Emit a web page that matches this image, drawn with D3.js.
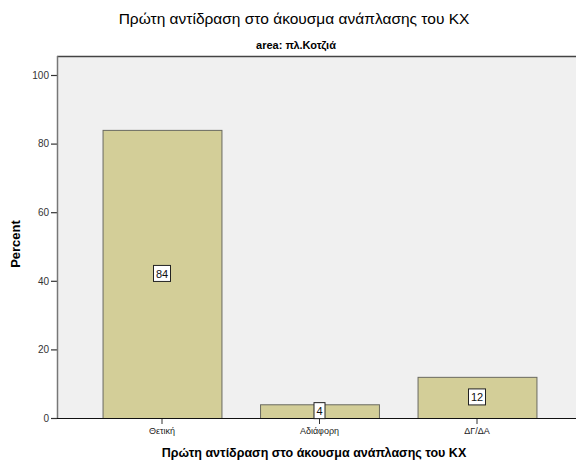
<!DOCTYPE html>
<html>
<head>
<meta charset="utf-8">
<script src="https://cdn.jsdelivr.net/npm/d3@7"></script>
<style>
  html, body { margin: 0; padding: 0; background: #ffffff; }
  svg { display: block; font-family: Arial, "Liberation Sans", sans-serif; }
</style>
</head>
<body>
<svg id="chart" width="576" height="464"></svg>
<script>
// Response categories and their percentages
const categories = ["Θετική", "Αδιάφορη", "ΔΓ/ΔΑ"];
const percents = [84, 4, 12];
const yTicks = [0, 20, 40, 60, 80, 100];

const titleText = "Πρώτη αντίδραση στο άκουσμα ανάπλασης του ΚΧ";
const subtitleText = "area: πλ.Κοτζιά";
const xTitle = "Πρώτη αντίδραση στο άκουσμα ανάπλασης του ΚΧ";
const yTitle = "Percent";

const plot = { left: 57, top: 56, right: 576, bottom: 418 };

const svg = d3.select("#chart");

const x = d3.scaleBand()
  .domain(categories)
  .range([83.25, 555.75])
  .paddingInner(0.245)
  .paddingOuter(0.1225);

const y = d3.scaleLinear()
  .domain([0, 100])
  .range([plot.bottom, 75]);

// plot background
svg.append("rect")
  .attr("x", plot.left).attr("y", plot.top)
  .attr("width", plot.right - plot.left)
  .attr("height", plot.bottom - plot.top)
  .attr("fill", "#f0f0f0");

// top frame line
svg.append("line")
  .attr("x1", plot.left).attr("x2", plot.right)
  .attr("y1", plot.top + 0.5).attr("y2", plot.top + 0.5)
  .attr("stroke", "#444").attr("stroke-width", 1.5);

// bars
svg.append("g").selectAll("rect")
  .data(percents)
  .join("rect")
  .attr("x", (d, i) => x(categories[i]) + 0.5)
  .attr("y", d => y(d) + 0.5)
  .attr("width", x.bandwidth())
  .attr("height", d => y(0) - y(d))
  .attr("fill", "#d3ce98")
  .attr("stroke", "#6a6a60")
  .attr("stroke-width", 1);

// y axis
const yAxis = svg.append("g")
  .attr("transform", `translate(${plot.left},0)`)
  .call(d3.axisLeft(y).tickValues(yTicks).tickSize(6).tickPadding(2).tickFormat(d3.format("d")));
yAxis.select(".domain").remove();
yAxis.selectAll(".tick line").attr("stroke", "#333").attr("stroke-width", 1.2);
yAxis.selectAll(".tick text")
  .attr("font-size", 10).attr("fill", "#333")
  .attr("font-family", "Arial, 'Liberation Sans', sans-serif");
svg.append("line")
  .attr("x1", plot.left + 0.5).attr("x2", plot.left + 0.5)
  .attr("y1", plot.top).attr("y2", plot.bottom)
  .attr("stroke", "#777").attr("stroke-width", 1.5);

// x axis
const xAxis = svg.append("g")
  .attr("transform", `translate(0,${plot.bottom})`)
  .call(d3.axisBottom(x).tickSize(6).tickPadding(4).tickSizeOuter(0));
xAxis.select(".domain").remove();
xAxis.selectAll(".tick line").attr("stroke", "#333").attr("stroke-width", 1);
xAxis.selectAll(".tick text")
  .attr("font-size", 9).attr("fill", "#222")
  .attr("font-family", "Arial, 'Liberation Sans', sans-serif");
svg.append("line")
  .attr("x1", plot.left).attr("x2", plot.right)
  .attr("y1", plot.bottom + 0.5).attr("y2", plot.bottom + 0.5)
  .attr("stroke", "#111").attr("stroke-width", 1.2);

// value labels in boxes at bar mid-height
const labels = svg.append("g").selectAll("g")
  .data(percents)
  .join("g")
  .attr("transform", (d, i) => `translate(${x(categories[i]) + x.bandwidth() / 2},${y(d / 2)})`);
labels.each(function(d) {
  const g = d3.select(this);
  const t = g.append("text")
    .text(d)
    .attr("text-anchor", "middle")
    .attr("dy", "0.36em")
    .attr("font-size", 11)
    .attr("fill", "#111");
  const bb = t.node().getBBox();
  g.insert("rect", "text")
    .attr("x", Math.round(bb.x) - 2.5)
    .attr("y", -8.5)
    .attr("width", Math.round(bb.width) + 5)
    .attr("height", 16)
    .attr("fill", "#ffffff")
    .attr("stroke", "#222")
    .attr("stroke-width", 1);
});

// titles
svg.append("text")
  .attr("x", 294).attr("y", 24)
  .attr("text-anchor", "middle")
  .attr("font-size", 15.5)
  .attr("fill", "#000")
  .text(titleText);

svg.append("text")
  .attr("x", 296).attr("y", 49)
  .attr("text-anchor", "middle")
  .attr("font-size", 11)
  .attr("font-weight", "bold")
  .attr("fill", "#000")
  .text(subtitleText);

svg.append("text")
  .attr("x", 314).attr("y", 457)
  .attr("text-anchor", "middle")
  .attr("font-size", 12.5)
  .attr("font-weight", "bold")
  .attr("fill", "#000")
  .text(xTitle);

svg.append("text")
  .attr("transform", "translate(20,244) rotate(-90)")
  .attr("text-anchor", "middle")
  .attr("font-size", 13)
  .attr("font-weight", "bold")
  .attr("fill", "#000")
  .text(yTitle);
</script>
</body>
</html>
